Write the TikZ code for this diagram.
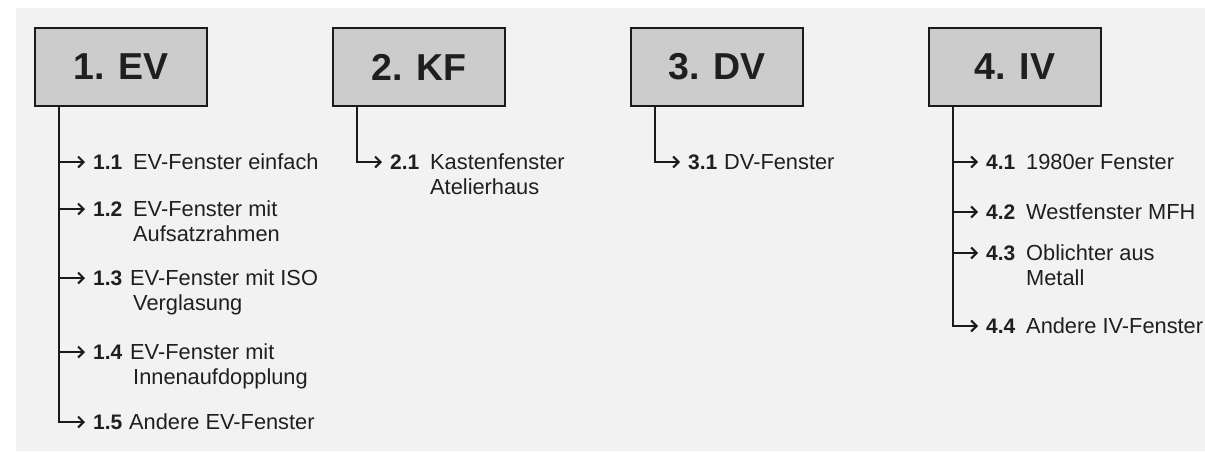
\documentclass[tikz,border=0pt]{standalone}
\usepackage{fontspec}
\setmainfont{Liberation Sans}
\usepackage{xcolor}
\definecolor{cPanel}{HTML}{F2F2F2}
\definecolor{cBox}{HTML}{CCCCCC}
\definecolor{cLine}{HTML}{1A1A1A}
\definecolor{cText}{HTML}{1F1F1F}
\usetikzlibrary{positioning,arrows.meta}
% erste Zeile auf der Grundlinie der Nummer
\newcommand{\zeilen}[1]{\begin{tabular}[t]{@{}l@{}}#1\end{tabular}}
\tikzset{
  node-head/.style={draw=cLine,line width=2pt,fill=cBox,
    minimum width=172pt,minimum height=78pt,text=cText,
    font=\fontsize{37.5}{45}\selectfont\bfseries},
  node-nr/.style={inner sep=0pt,anchor=west,text=cText,
    font=\fontsize{21}{25}\selectfont\bfseries},
  node-text/.style={inner sep=0pt,anchor=base west,text=cText,
    font=\fontsize{21.8}{25}\selectfont},
  trunk/.style={line width=2pt,draw=cLine},
  arrow/.style={-{Straight Barb[length=5.5pt,width=11pt]},line width=2pt,draw=cLine},
}

\begin{document}
\begin{tikzpicture}[x=1pt,y=-1pt]
  \useasboundingbox (0,0) rectangle (1205,451);
  \fill[cPanel] (16,8) rectangle (1205,451);
  % Kopfkaesten
  \node[node-head] (ev) at (121,67) {1. EV};
  \node[node-head] (kf) at (419,67) {2. KF};
  \node[node-head] (dv) at (717,67) {3. DV};
  \node[node-head] (iv) at (1015,67) {4. IV};
  \coordinate (ev-t) at ([xshift=25pt]ev.south west);
  \coordinate (kf-t) at ([xshift=25pt]kf.south west);
  \coordinate (dv-t) at ([xshift=25pt]dv.south west);
  \coordinate (iv-t) at ([xshift=25pt]iv.south west);
  % 1. EV
  \node[node-nr] (n11) at (93,162) {1.1};
  \node[node-nr] (n12) at (93,209) {1.2};
  \node[node-nr] (n13) at (93,278) {1.3};
  \node[node-nr] (n14) at (93,352) {1.4};
  \node[node-nr] (n15) at (93,422) {1.5};
  \node[node-text] (t11) at ([xshift=40pt]n11.base west) {EV-Fenster einfach};
  \node[node-text] (t12) at ([xshift=40pt]n12.base west) {\zeilen{EV-Fenster mit\\Aufsatzrahmen}};
  \node[node-text] (t13) at ([xshift=37pt]n13.base west) {\zeilen{EV-Fenster mit ISO\\\hspace*{3pt}Verglasung}};
  \node[node-text] (t14) at ([xshift=37pt]n14.base west) {\zeilen{EV-Fenster mit\\\hspace*{3pt}Innenaufdopplung}};
  \node[node-text] (t15) at ([xshift=36pt]n15.base west) {Andere EV-Fenster};
  % 2. KF
  \node[node-nr] (n21) at (390,162) {2.1};
  \node[node-text] (t21) at ([xshift=40pt]n21.base west) {\zeilen{Kastenfenster\\Atelierhaus}};
  % 3. DV
  \node[node-nr] (n31) at (688,162) {3.1};
  \node[node-text] (t31) at ([xshift=36pt]n31.base west) {DV-Fenster};
  % 4. IV
  \node[node-nr] (n41) at (986,162) {4.1};
  \node[node-nr] (n42) at (986,212) {4.2};
  \node[node-nr] (n43) at (986,253) {4.3};
  \node[node-nr] (n44) at (986,326) {4.4};
  \node[node-text] (t41) at ([xshift=40pt]n41.base west) {1980er Fenster};
  \node[node-text] (t42) at ([xshift=40pt]n42.base west) {Westfenster MFH};
  \node[node-text] (t43) at ([xshift=40pt]n43.base west) {\zeilen{Oblichter aus\\Metall}};
  \node[node-text] (t44) at ([xshift=40pt]n44.base west) {Andere IV-Fenster};
  % Verbindungen
  \draw[arrow] (ev-t) |- ([xshift=-8pt]n15.west);
  \draw[arrow] (kf-t) |- ([xshift=-8pt]n21.west);
  \draw[arrow] (dv-t) |- ([xshift=-8pt]n31.west);
  \draw[arrow] (iv-t) |- ([xshift=-8pt]n44.west);
  \foreach \n/\t in {n11/ev-t,n12/ev-t,n13/ev-t,n14/ev-t,n41/iv-t,n42/iv-t,n43/iv-t}
    \draw[arrow] (\n.west -| \t) -- ([xshift=-8pt]\n.west);
\end{tikzpicture}
\end{document}
